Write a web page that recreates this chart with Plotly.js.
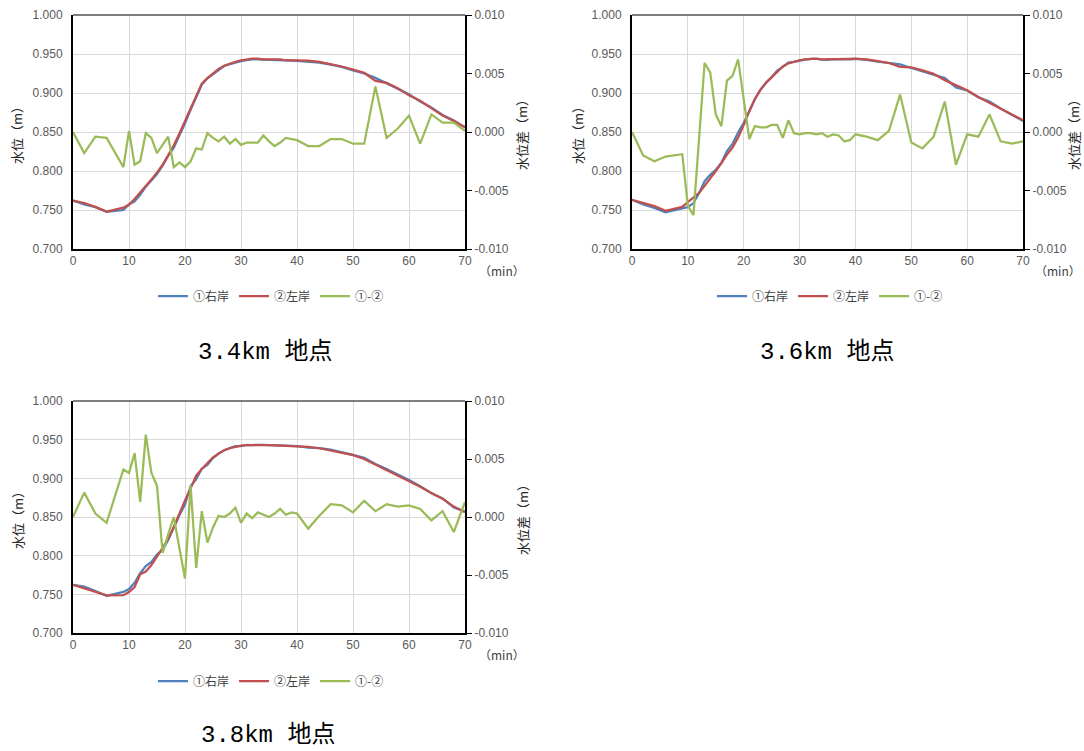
<!DOCTYPE html>
<html>
<head>
<meta charset="utf-8">
<script src="https://cdn.plot.ly/plotly-3.0.1.min.js"></script>
<style>
html,body{margin:0;padding:0;background:#fff;}
#chart{width:1084px;height:751px;}
</style>
</head>
<body>
<div id="chart"></div>
<script>
// ---- data ----
var T = [0,2,4,6,9,10,11,12,13,14,15,16,17,18,19,20,21,22,23,24,25,26,27,28,29,30,31,32,33,34,35,36,37,38,39,40,42,44,46,48,50,52,54,56,58,60,62,64,66,68,70];

var SERIES_NAMES = ['①右岸','②左岸','①-②'];
var CHART_TITLES = ['3.4km 地点','3.6km 地点','3.8km 地点'];

// 3.4km
var right34 = [0.7620,0.7572,0.7536,0.7475,0.7500,0.7571,0.7612,0.7695,0.7799,0.7885,0.7962,0.8069,0.8196,0.8300,0.8454,0.8610,0.8785,0.8936,0.9105,0.9189,0.9245,0.9302,0.9346,0.9370,0.9394,0.9409,0.9421,0.9431,0.9431,0.9427,0.9422,0.9418,0.9421,0.9415,0.9414,0.9413,0.9403,0.9388,0.9364,0.9334,0.9290,0.9250,0.9194,0.9125,0.9063,0.8984,0.8890,0.8815,0.8718,0.8648,0.8561];
var left34  = [0.762,0.759,0.754,0.748,0.753,0.757,0.764,0.772,0.780,0.789,0.798,0.808,0.820,0.833,0.848,0.864,0.881,0.895,0.912,0.919,0.925,0.931,0.935,0.938,0.940,0.942,0.943,0.944,0.944,0.943,0.943,0.943,0.943,0.942,0.942,0.942,0.9415,0.940,0.937,0.934,0.930,0.926,0.9155,0.913,0.906,0.897,0.890,0.880,0.871,0.864,0.856];
var diff34  = [0,-0.0018,-0.0004,-0.0005,-0.0030,0.0001,-0.0028,-0.0025,-0.0001,-0.0005,-0.0018,-0.0011,-0.0004,-0.0030,-0.0026,-0.0030,-0.0025,-0.0014,-0.0015,-0.0001,-0.0005,-0.0008,-0.0004,-0.0010,-0.0006,-0.0011,-0.0009,-0.0009,-0.0009,-0.0003,-0.0008,-0.0012,-0.0009,-0.0005,-0.0006,-0.0007,-0.0012,-0.0012,-0.0006,-0.0006,-0.0010,-0.0010,0.0039,-0.0005,0.0003,0.0014,-0.0010,0.0015,0.0008,0.0008,0.0001];

// 3.6km
var right36 = [0.7630,0.7570,0.7525,0.7469,0.7521,0.7537,0.7589,0.7714,0.7869,0.7951,0.8015,0.8105,0.8254,0.8348,0.8492,0.8618,0.8764,0.8925,0.9044,0.9134,0.9206,0.9286,0.9335,0.9390,0.9399,0.9418,0.9429,0.9436,0.9438,0.9429,0.9426,0.9433,0.9432,0.9427,0.9430,0.9438,0.9426,0.9403,0.9386,0.9367,0.9321,0.9276,0.9241,0.9191,0.9072,0.9033,0.8946,0.8890,0.8802,0.8720,0.8642];
var left36  = [0.763,0.759,0.755,0.749,0.754,0.760,0.766,0.772,0.781,0.790,0.800,0.810,0.821,0.830,0.843,0.859,0.877,0.892,0.904,0.913,0.920,0.928,0.934,0.938,0.940,0.942,0.943,0.9437,0.944,0.943,0.943,0.9435,0.9435,0.9435,0.9437,0.944,0.943,0.941,0.9385,0.9335,0.933,0.929,0.9245,0.9165,0.910,0.9035,0.895,0.8875,0.881,0.873,0.865];
var diff36  = [0,-0.0020,-0.0025,-0.0021,-0.0019,-0.0063,-0.0071,-0.0006,0.0059,0.0051,0.0015,0.0005,0.0044,0.0048,0.0062,0.0028,-0.0006,0.0005,0.0004,0.0004,0.0006,0.0006,-0.0005,0.0010,-0.0001,-0.0002,-0.0001,-0.0001,-0.0002,-0.0001,-0.0004,-0.0002,-0.0003,-0.0008,-0.0007,-0.0002,-0.0004,-0.0007,0.0001,0.0032,-0.0009,-0.0014,-0.0004,0.0026,-0.0028,-0.0002,-0.0004,0.0015,-0.0008,-0.0010,-0.0008];

// 3.8km
var right38 = [0.7624,0.7601,0.7541,0.7482,0.7531,0.7568,0.7649,0.7773,0.7866,0.7918,0.8014,0.8076,0.8203,0.8372,0.8523,0.8661,0.8897,0.8990,0.9125,0.9175,0.9261,0.9321,0.9363,0.9392,0.9418,0.9418,0.9433,0.9431,0.9436,0.9432,0.9428,0.9428,0.9429,0.9422,0.9419,0.9415,0.9396,0.9390,0.9371,0.9340,0.9304,0.9264,0.9185,0.9121,0.9049,0.8980,0.8897,0.8807,0.8740,0.8622,0.8573];
var left38  = [0.7624,0.758,0.7538,0.7487,0.7490,0.7530,0.7594,0.7760,0.7795,0.7880,0.7987,0.8107,0.8218,0.8372,0.8550,0.8714,0.8870,0.9034,0.9120,0.9197,0.9270,0.9320,0.9363,0.9389,0.9410,0.9423,0.9430,0.9432,0.9432,0.9430,0.9428,0.9425,0.9422,0.9420,0.9415,0.9412,0.9406,0.9389,0.9360,0.9330,0.9300,0.9250,0.9180,0.9110,0.9040,0.8970,0.8890,0.8810,0.8735,0.8635,0.8560];
var diff38  = [0,0.0021,0.0003,-0.0005,0.0041,0.0038,0.0055,0.0013,0.0071,0.0038,0.0027,-0.0031,-0.0015,0.0000,-0.0027,-0.0053,0.0027,-0.0044,0.0005,-0.0022,-0.0009,0.0001,0.0000,0.0003,0.0008,-0.0005,0.0003,-0.0001,0.0004,0.0002,0.0000,0.0003,0.0007,0.0002,0.0004,0.0003,-0.0010,0.0001,0.0011,0.0010,0.0004,0.0014,0.0005,0.0011,0.0009,0.0010,0.0007,-0.0003,0.0005,-0.0013,0.0013];

// axis ticks
var X_TICKS = [0,10,20,30,40,50,60,70];
var LEFT_TICK_VALS = [0.70,0.75,0.80,0.85,0.90,0.95,1.00];
var LEFT_TICK_TEXT = ['0.700','0.750','0.800','0.850','0.900','0.950','1.000'];
var RIGHT_TICK_VALS = [-0.010,-0.005,0,0.005,0.010];
var RIGHT_TICK_TEXT = ['-0.010','-0.005','0.000','0.005','0.010'];
var LEFT_AXIS_TITLE = '水位（m）';
var RIGHT_AXIS_TITLE = '水位差（m）';
var X_UNIT = '（min）';

// ---- styling ----
var COLORS = ['#4F81BD','#C0504D','#9BBB59'];
var W = 1084, H = 751;
function px(x){return x/W;}
function py(y){return 1-y/H;}

var panels = [
  {right:right34,left:left34,diff:diff34,title:CHART_TITLES[0], x0:73,x1:465,y0:15,y1:249, leg:[271,296], ttl:[265,352], lt:17, rt:522, unit:[502,270]},
  {right:right36,left:left36,diff:diff36,title:CHART_TITLES[1], x0:632,x1:1023,y0:15,y1:249, leg:[830,296], ttl:[827,352], lt:578, rt:1074, unit:[1058,270]},
  {right:right38,left:left38,diff:diff38,title:CHART_TITLES[2], x0:73,x1:465,y0:401,y1:633, leg:[271,681], ttl:[268,735], lt:17, rt:522, unit:[502,654]}
];

var numFont = {family:'Liberation Sans, Arial, sans-serif', size:12, color:'#595959'};
var cjk = 'Noto Sans CJK JP, Noto Sans, sans-serif';

var data = [], annotations = [], shapes = [];
var layout = {
  width:W, height:H, margin:{l:0,r:0,t:0,b:0},
  paper_bgcolor:'#fff', plot_bgcolor:'#fff', showlegend:true
};

panels.forEach(function(p, i){
  var n = i+1;
  var xa = 'x' + (n===1?'':n);
  var yl = 'y' + (2*n-1===1?'':(2*n-1));
  var yr = 'y' + (2*n);
  var legKey = 'legend' + (n===1?'':n);
  data.push({type:'scatter', mode:'lines', x:T, y:p.right, name:SERIES_NAMES[0], xaxis:xa, yaxis:yl, legend:legKey, line:{color:COLORS[0], width:2.25}});
  data.push({type:'scatter', mode:'lines', x:T, y:p.left, name:SERIES_NAMES[1], xaxis:xa, yaxis:yl, legend:legKey, line:{color:COLORS[1], width:2.25}});
  data.push({type:'scatter', mode:'lines', x:T, y:p.diff, name:SERIES_NAMES[2], xaxis:xa, yaxis:yr, legend:legKey, line:{color:COLORS[2], width:2.25}});

  var xKey = 'xaxis' + (n===1?'':n);
  var ylKey = 'yaxis' + (2*n-1===1?'':(2*n-1));
  var yrKey = 'yaxis' + (2*n);
  layout[xKey] = {
    domain:[px(p.x0), px(p.x1)], anchor:yl, range:[0,70], tickvals:X_TICKS,
    showgrid:true, gridcolor:'#d9d9d9', gridwidth:1, zeroline:false,
    showline:true, linecolor:'#000', linewidth:2, ticks:'', tickfont:numFont,
    fixedrange:true
  };
  layout[ylKey] = {
    domain:[py(p.y1), py(p.y0)], anchor:xa, range:[0.7,1.0],
    tickvals:LEFT_TICK_VALS, ticktext:LEFT_TICK_TEXT,
    showgrid:true, gridcolor:'#d9d9d9', gridwidth:1, zeroline:false,
    showline:true, linecolor:'#000', linewidth:2, ticks:'', tickfont:numFont,
    ticklabelstandoff:6, fixedrange:true
  };
  layout[yrKey] = {
    domain:[py(p.y1), py(p.y0)], anchor:xa, overlaying:yl, side:'right', range:[-0.01,0.01],
    tickvals:RIGHT_TICK_VALS, ticktext:RIGHT_TICK_TEXT,
    showgrid:false, zeroline:false,
    showline:true, linecolor:'#000', linewidth:2, ticks:'outside', ticklen:5, tickcolor:'#000', tickwidth:1,
    tickfont:numFont, fixedrange:true
  };
  layout[legKey] = {
    orientation:'h', x:px(p.leg[0]), y:py(p.leg[1]), xanchor:'center', yanchor:'middle',
    font:{family:cjk, size:12, color:'#404040'}, bgcolor:'rgba(0,0,0,0)', itemwidth:30,
    tracegroupgap:0
  };
  shapes.push({type:'line', xref:xa+' domain', yref:yl+' domain', x0:0, x1:1, y0:1, y1:1, line:{color:'#000', width:1}});

  annotations.push({xref:'paper', yref:'paper', x:px(p.lt), y:py((p.y0+p.y1)/2), text:LEFT_AXIS_TITLE, textangle:-90, showarrow:false, xanchor:'center', yanchor:'middle', font:{family:cjk, size:13, color:'#262626'}});
  annotations.push({xref:'paper', yref:'paper', x:px(p.rt), y:py((p.y0+p.y1)/2), text:RIGHT_AXIS_TITLE, textangle:-90, showarrow:false, xanchor:'center', yanchor:'middle', font:{family:cjk, size:13, color:'#262626'}});
  annotations.push({xref:'paper', yref:'paper', x:px(p.unit[0]), y:py(p.unit[1]), text:X_UNIT, showarrow:false, xanchor:'center', yanchor:'middle', font:{family:cjk, size:12, color:'#404040'}});
  annotations.push({xref:'paper', yref:'paper', x:px(p.ttl[0]), y:py(p.ttl[1]), text:p.title, showarrow:false, xanchor:'center', yanchor:'middle', font:{family:'Liberation Mono, DejaVu Sans Mono, Noto Sans CJK JP, monospace', size:24, color:'#000'}});
});

layout.annotations = annotations;
layout.shapes = shapes;

Plotly.newPlot('chart', data, layout, {staticPlot:true, displayModeBar:false});
</script>
</body>
</html>
